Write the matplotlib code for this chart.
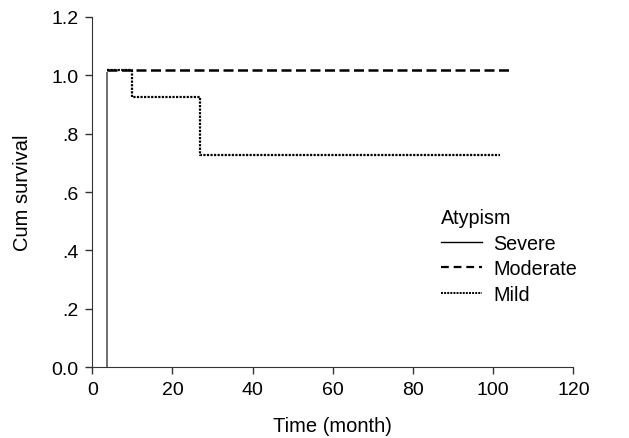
import matplotlib
matplotlib.use("Agg")
import matplotlib.pyplot as plt
from matplotlib.lines import Line2D

plt.rcParams['font.family'] = ['Liberation Sans', 'DejaVu Sans']

# Kaplan-Meier step data (time in months, cumulative survival)
severe_t = [3.6, 3.6]
severe_s = [1.01, 0.0]

moderate_t = [3.6, 105.0]
moderate_s = [1.02, 1.02]

mild_t = [3.6, 10.0, 26.9, 101.8]
mild_s = [1.02, 0.927, 0.728, 0.728]

x_ticks = [0, 20, 40, 60, 80, 100, 120]
y_ticks = [0.0, 0.2, 0.4, 0.6, 0.8, 1.0, 1.2]
y_labels = ['0.0', '.2', '.4', '.6', '.8', '1.0', '1.2']

fig = plt.figure(figsize=(6.29, 4.39), dpi=100)
ax = fig.add_axes([0.1467, 0.1617, 0.7648, 0.7973])

ax.plot(severe_t, severe_s, color='#555555', lw=1.2, solid_capstyle='butt')
ax.step(moderate_t, moderate_s, where='post', color='black', lw=1.8,
        linestyle=(0, (4, 1.8)))
ax.step(mild_t, mild_s, where='post', color='black', lw=1.6,
        linestyle=(0, (1, 0.6)))

ax.set_xlim(0, 120)
ax.set_ylim(0, 1.2)
ax.set_xticks(x_ticks)
ax.set_yticks(y_ticks)
ax.set_yticklabels(y_labels)
ax.spines['top'].set_visible(False)
ax.spines['right'].set_visible(False)
ax.spines['left'].set_color('#333333')
ax.spines['bottom'].set_color('#333333')
ax.tick_params(direction='out', length=5, width=1, labelsize=14, pad=5,
               color='#333333')
ax.set_xlabel('Time (month)', fontsize=14.5, labelpad=13)
ax.set_ylabel('Cum survival', fontsize=14.5, labelpad=14)

handles = [
    Line2D([], [], color='black', lw=1.0),
    Line2D([], [], color='black', lw=1.6, linestyle=(0, (3.5, 2.2))),
    Line2D([], [], color='black', lw=1.4, linestyle=(0, (1, 0.6))),
]
leg = ax.legend(handles, ['Severe', 'Moderate', 'Mild'], title='Atypism',
                loc='upper left', bbox_to_anchor=(87, 0.545),
                bbox_transform=ax.transData, frameon=False,
                fontsize=14.2, title_fontsize=14.2, handlelength=2.1,
                handletextpad=0.55, labelspacing=0.33, borderpad=0,
                borderaxespad=0, alignment='left')

fig.savefig('out.png', dpi=100)
